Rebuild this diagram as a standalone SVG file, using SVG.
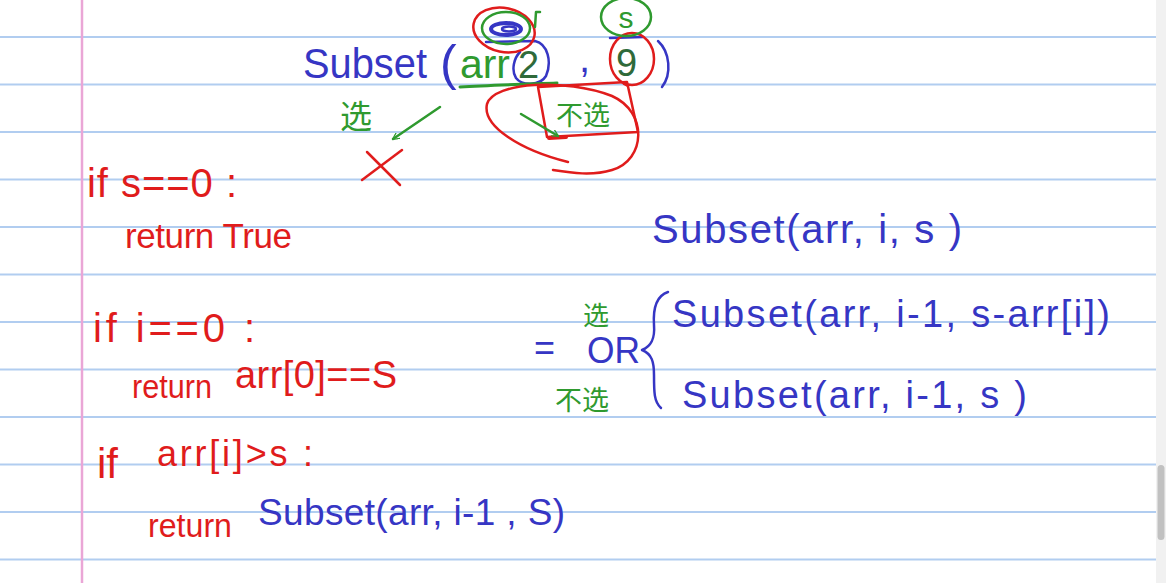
<svg xmlns="http://www.w3.org/2000/svg" width="1166" height="583" viewBox="0 0 1166 583">
<style>
text{font-family:"Liberation Sans","Noto Sans CJK SC",sans-serif}
.b{fill:#3636c4}.r{fill:#e01c1c}.g{fill:#2f9a2f}
.sl{fill:none;stroke-linecap:round;stroke-linejoin:round}
.sb{stroke:#3636c4}.sr{stroke:#e01c1c}.sg{stroke:#2f9a2f}
.rule{stroke:#b1cdf0;stroke-width:2}
</style>
<defs>
<marker id="ag" viewBox="0 0 10 10" refX="9" refY="5" markerWidth="7" markerHeight="7" orient="auto" markerUnits="userSpaceOnUse">
<path d="M0,0 L10,5 L0,10" fill="none" stroke="#2f9a2f" stroke-width="1.8"/>
</marker>
</defs>
<rect width="1166" height="583" fill="#ffffff"/>
<g id="paper">
<line class="rule" x1="0" y1="37" x2="1156" y2="37"/>
<line class="rule" x1="0" y1="84.5" x2="1156" y2="84.5"/>
<line class="rule" x1="0" y1="132" x2="1156" y2="132"/>
<line class="rule" x1="0" y1="179.5" x2="1156" y2="179.5"/>
<line class="rule" x1="0" y1="227" x2="1156" y2="227"/>
<line class="rule" x1="0" y1="274.5" x2="1156" y2="274.5"/>
<line class="rule" x1="0" y1="322" x2="1156" y2="322"/>
<line class="rule" x1="0" y1="369.5" x2="1156" y2="369.5"/>
<line class="rule" x1="0" y1="417" x2="1156" y2="417"/>
<line class="rule" x1="0" y1="464.5" x2="1156" y2="464.5"/>
<line class="rule" x1="0" y1="512" x2="1156" y2="512"/>
<line class="rule" x1="0" y1="559.5" x2="1156" y2="559.5"/>
<line x1="82" y1="0" x2="82" y2="583" stroke="#eaa6d6" stroke-width="2.5"/>
<rect x="1156" y="0" width="10" height="583" fill="#f1f1f1"/>
<rect x="1157.5" y="465" width="7" height="75" rx="3.5" fill="#c1c1c1"/>
</g>
<g id="top-call">
<text class="b" x="303" y="78" font-size="42" textLength="124" lengthAdjust="spacingAndGlyphs">Subset</text>
<text class="b" x="440" y="80" font-size="50">(</text>
<text class="g" x="460" y="78" font-size="40" textLength="50" lengthAdjust="spacingAndGlyphs">arr</text>
<text x="518" y="78" font-size="38" fill="#2f6a3a">2</text>
<path class="sl sb" stroke-width="2.5" d="M486,42 L535,41 C548,44 552,62 546,76 C540,86 522,86 516,78 C511,70 514,58 520,52"/>
<text class="b" x="579" y="72" font-size="40">,</text>
<text x="616" y="76" font-size="38" fill="#2f6a3a">9</text>
<line class="sl sb" stroke-width="2.5" x1="610" y1="38" x2="643" y2="37"/>
<ellipse class="sl sr" stroke-width="2.5" cx="632" cy="59" rx="22" ry="26"/>
<line class="sl sr" stroke-width="2.5" x1="624" y1="84" x2="628" y2="86"/>
<path class="sl sb" stroke-width="2.5" d="M658,41 C670,52 672,74 662,87"/>
<path class="sl sg" stroke-width="3" d="M460,87 C490,85 530,84 557,83"/>
<ellipse class="sl sr" stroke-width="2.5" cx="504" cy="30" rx="31" ry="22" transform="rotate(12 504 30)"/>
<ellipse class="sl sg" stroke-width="2.5" cx="506" cy="28" rx="24" ry="16"/>
<ellipse cx="506" cy="29" rx="15" ry="6" fill="none" stroke="#3636c4" stroke-width="4"/>
<ellipse cx="509" cy="29" rx="7" ry="2.5" fill="none" stroke="#3636c4" stroke-width="2.5"/>
<path class="sl sg" stroke-width="2.5" d="M540,12 L536,12 L535,27"/>
<ellipse class="sl sg" stroke-width="2.5" cx="626" cy="17" rx="25" ry="19"/>
<text class="g" x="626" y="28" font-size="30" text-anchor="middle">s</text>
</g>
<g id="choice-marks">
<text class="g" x="340" y="128" font-size="32">选</text>
<text class="g" x="556" y="125" font-size="27">不选</text>
<path class="sl sr" stroke-width="2.5" d="M538,87 L627,82 L638,132 L547,137 Z"/>
<path class="sl sr" stroke-width="2.5" d="M568,162 C520,150 482,126 487,104 C494,82 565,78 612,96 C648,112 646,160 612,170 C592,176 572,173 553,170"/>
<line class="sl sr" stroke-width="4" x1="549" y1="138" x2="566" y2="137"/>
</g>
<g id="connectors">
<line class="sl sg" stroke-width="2.5" x1="440" y1="107" x2="393" y2="139" marker-end="url(#ag)"/>
<line class="sl sg" stroke-width="2.5" x1="521" y1="114" x2="558" y2="136" marker-end="url(#ag)"/>
</g>
<g id="cross">
<line class="sl sr" stroke-width="2.5" x1="367" y1="152" x2="400" y2="185"/>
<line class="sl sr" stroke-width="2.5" x1="402" y1="150" x2="362" y2="180"/>
</g>
<g id="base-cases">
<text class="r" x="87" y="197" font-size="40" textLength="150" lengthAdjust="spacing">if s==0 :</text>
<text class="r" x="125" y="248" font-size="35" textLength="167" lengthAdjust="spacing">return True</text>
<text class="r" x="93" y="342" font-size="40" textLength="162" lengthAdjust="spacing">if i==0 :</text>
<text class="r" x="132" y="398" font-size="34" textLength="80" lengthAdjust="spacingAndGlyphs">return</text>
<text class="r" x="235" y="388" font-size="38" textLength="162" lengthAdjust="spacing">arr[0]==S</text>
<text class="r" x="97" y="478" font-size="42">if</text>
<text class="r" x="157" y="466" font-size="36" textLength="156" lengthAdjust="spacing">arr[i]&gt;s :</text>
<text class="r" x="148" y="537" font-size="34" textLength="84" lengthAdjust="spacingAndGlyphs">return</text>
<text class="b" x="258" y="525" font-size="37" textLength="307" lengthAdjust="spacing">Subset(arr, i-1 , S)</text>
</g>
<g id="recurrence">
<text class="b" x="652" y="243" font-size="40" textLength="310" lengthAdjust="spacing">Subset(arr, i, s )</text>
<text class="b" x="534" y="360" font-size="36">=</text>
<text class="g" x="583" y="325" font-size="26">选</text>
<text class="b" x="587" y="363" font-size="36" textLength="53" lengthAdjust="spacingAndGlyphs">OR</text>
<text class="g" x="555" y="410" font-size="27">不选</text>
<path class="sl sb" stroke-width="2.5" d="M668,292 C656,296 653,310 654,325 C655,338 652,346 642,350 C652,354 654,362 654,375 C654,392 654,402 661,408"/>
<text class="b" x="672" y="327" font-size="38" textLength="438" lengthAdjust="spacing">Subset(arr, i-1, s-arr[i])</text>
<text class="b" x="682" y="408" font-size="38" textLength="345" lengthAdjust="spacing">Subset(arr, i-1, s )</text>
</g>
</svg>
